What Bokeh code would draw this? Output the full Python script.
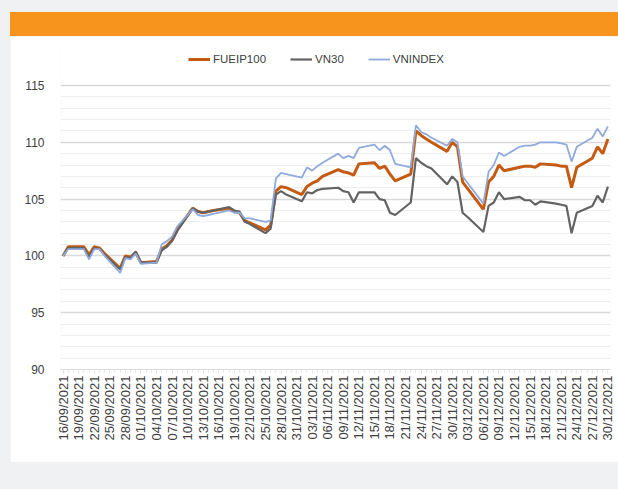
import pandas as pd
from bokeh.plotting import figure
from bokeh.models import Range1d, FixedTicker, Legend, LegendItem, Div
from bokeh.layouts import column
from bokeh.embed import file_html
from bokeh.resources import INLINE

# ---------------- data ----------------
start_date = "2021-09-16"
end_date = "2021-12-30"
trade_dates = pd.bdate_range(start_date, end_date)  # 76 trading days

fueip100 = [100.0, 100.8, 100.8, 100.1, 100.8, 100.7, 100.2, 98.9, 100.0, 99.9,
            100.3, 99.4, 99.5, 100.6, 100.9, 101.4, 102.3, 104.2, 103.9, 103.8,
            103.9, 104.0, 104.2, 103.9, 103.8, 103.1, 102.9, 102.3, 102.7, 105.7,
            106.1, 106.0, 105.4, 106.1, 106.4, 106.6, 107.0, 107.6, 107.4, 107.3,
            107.1, 108.1, 108.2, 107.7, 107.9, 107.2, 106.6, 107.2, 111.0, 110.6,
            110.3, 110.0, 109.2, 110.0, 109.6, 106.5, 105.9, 104.1, 106.5, 107.0,
            108.0, 107.5, 107.8, 107.9, 107.9, 107.8, 108.1, 108.0, 107.9, 107.9,
            106.0, 107.8, 108.6, 109.6, 109.0, 110.3]

vn30 = [100.0, 100.7, 100.7, 99.9, 100.7, 100.6, 100.1, 98.8, 99.9, 99.8,
        100.4, 99.4, 99.4, 100.5, 100.8, 101.3, 102.2, 104.2, 103.9, 103.8,
        103.9, 104.0, 104.3, 104.0, 103.9, 103.0, 102.8, 102.0, 102.4, 105.4,
        105.7, 105.4, 104.8, 105.6, 105.5, 105.8, 105.9, 106.0, 105.7, 105.6,
        104.7, 105.6, 105.6, 105.0, 104.9, 103.8, 103.6, 104.7, 108.6, 108.2,
        107.9, 107.7, 106.3, 107.0, 106.5, 103.8, 103.4, 102.1, 104.4, 104.7,
        105.6, 105.0, 105.2, 104.9, 104.9, 104.5, 104.8, 104.6, 104.5, 104.4,
        102.0, 103.8, 104.4, 105.3, 104.7, 106.1]

vnindex = [100.0, 100.6, 100.6, 99.7, 100.6, 100.6, 100.0, 98.5, 99.8, 99.7,
           100.2, 99.3, 99.4, 101.0, 101.3, 101.7, 102.6, 104.1, 103.6, 103.5,
           103.6, 103.7, 104.0, 103.8, 103.8, 103.3, 103.3, 103.0, 103.1, 106.8,
           107.3, 107.2, 106.9, 107.8, 107.5, 107.9, 108.2, 109.0, 108.6, 108.8,
           108.6, 109.5, 109.8, 109.3, 109.7, 109.3, 108.1, 107.8, 111.5, 110.9,
           110.7, 110.4, 109.7, 110.3, 110.0, 107.0, 106.4, 104.6, 107.4, 108.0,
           109.1, 108.8, 109.6, 109.7, 109.7, 109.8, 110.0, 110.0, 109.9, 109.8,
           108.3, 109.6, 110.4, 111.2, 110.5, 111.4]

series_names = ["FUEIP100", "VN30", "VNINDEX"]
y_ticks = [90, 95, 100, 105, 110, 115]
tick_dates = pd.date_range(start_date, end_date, freq="3D")
tick_labels = [d.strftime("%d/%m/%Y") for d in tick_dates]

# ---------------- build ----------------
t0 = pd.Timestamp(start_date)
xs = [(d - t0).days for d in trade_dates]
tick_pos = [(d - t0).days for d in tick_dates]
all_days = list(range(0, (pd.Timestamp(end_date) - t0).days + 1))

FONT = "Liberation Sans"
TXT = "#404040"

bar = Div(text="", width=608, height=24, margin=(12, 0, 0, 10),
          styles={"background-color": "#F7941D"})

# y range extended above 115 so the legend can sit inside the frame
p = figure(width=608, height=426, output_backend="svg", toolbar_location=None,
           x_range=Range1d(-0.5, 105.5), y_range=Range1d(90, 118.52),
           min_border_left=50, min_border_right=8, min_border_top=9,
           min_border_bottom=93, margin=(0, 0, 0, 10))
p.outline_line_color = None
p.background_fill_color = "white"
p.border_fill_color = "white"

# y axis
p.yaxis.ticker = FixedTicker(ticks=y_ticks, minor_ticks=list(range(90, 116)))
p.yaxis.axis_line_color = None
p.yaxis.major_tick_line_color = None
p.yaxis.minor_tick_line_color = None
p.yaxis.major_label_standoff = 10
p.yaxis.major_label_text_font = FONT
p.yaxis.major_label_text_font_size = "12px"
p.yaxis.major_label_text_color = TXT

p.ygrid.grid_line_color = "#d9d9d9"
p.ygrid.grid_line_width = 1.3
p.ygrid.minor_grid_line_color = "#eeeeee"
p.ygrid.minor_grid_line_width = 1
p.xgrid.grid_line_color = None

# x axis
p.xaxis.ticker = FixedTicker(ticks=tick_pos, minor_ticks=all_days)
p.xaxis.major_label_overrides = {pos: lab for pos, lab in zip(tick_pos, tick_labels)}
p.xaxis.major_label_orientation = 3.14159265 / 2
p.xaxis.axis_line_color = "#d9d9d9"
p.xaxis.major_tick_line_color = "#d9d9d9"
p.xaxis.minor_tick_line_color = "#e6e6e6"
p.xaxis.major_tick_out = 4
p.xaxis.major_tick_in = 0
p.xaxis.minor_tick_out = 3
p.xaxis.minor_tick_in = 0
p.xaxis.major_label_standoff = 2
p.xaxis.major_label_text_font = FONT
p.xaxis.major_label_text_font_size = "13px"
p.xaxis.major_label_text_color = TXT

r1 = p.line(xs, fueip100, line_color="#C55A11", line_width=3)
r2 = p.line(xs, vn30, line_color="#636363", line_width=2.2)
r3 = p.line(xs, vnindex, line_color="#8FAADC", line_width=1.8)

legend = Legend(items=[LegendItem(label=series_names[0], renderers=[r1]),
                       LegendItem(label=series_names[1], renderers=[r2]),
                       LegendItem(label=series_names[2], renderers=[r3])],
                location=(128, 303), orientation="horizontal",
                padding=2, spacing=24, label_standoff=3, margin=0,
                glyph_width=22, glyph_height=14, label_height=14,
                border_line_color=None, background_fill_alpha=0,
                label_text_font=FONT, label_text_font_size="11.5px",
                label_text_color=TXT)
p.add_layout(legend, "center")

layout = column(bar, p, width=618, height=489,
                styles={"background-color": "#eff1f3"})
open("out.html", "w").write(file_html(layout, INLINE))
